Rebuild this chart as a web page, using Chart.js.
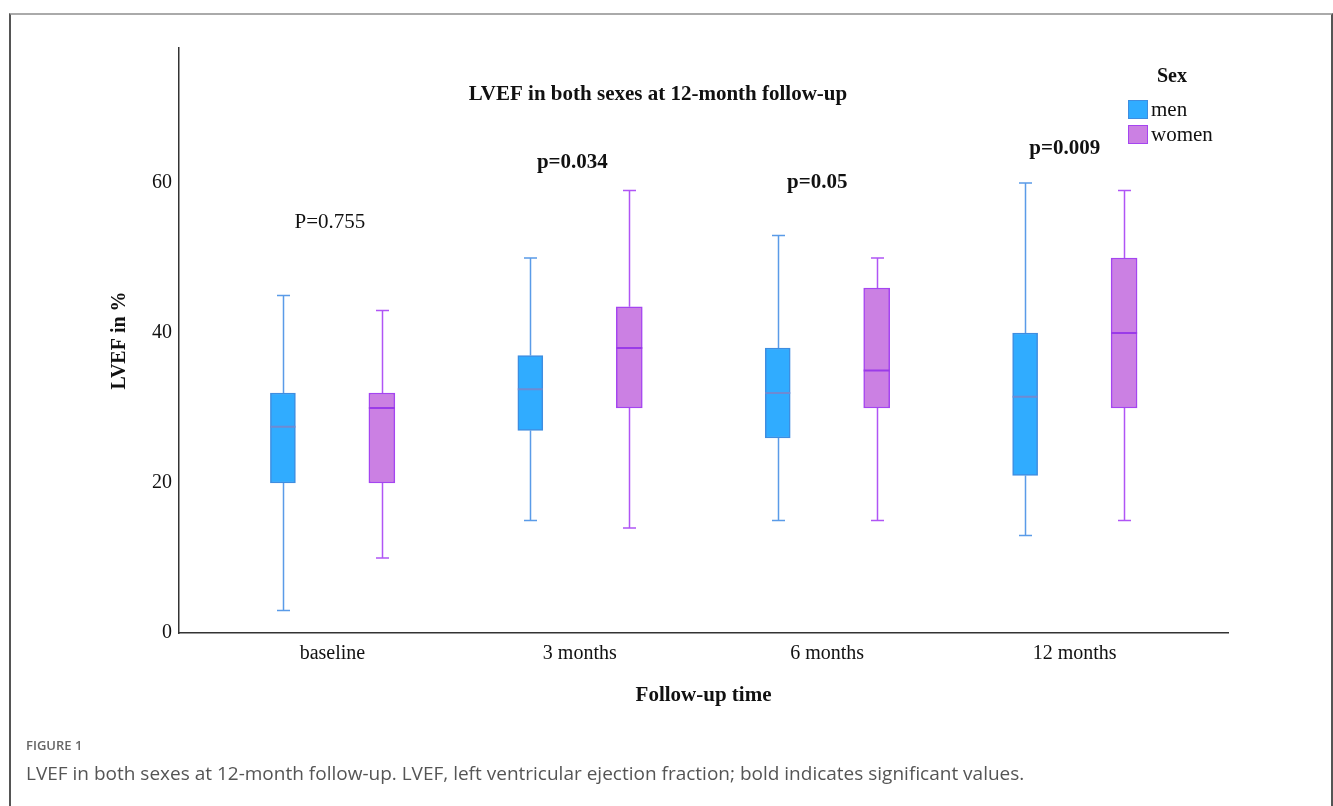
<!DOCTYPE html>
<html>
<head>
<meta charset="utf-8">
<script src="https://cdn.jsdelivr.net/npm/chart.js@4.4.0/dist/chart.umd.min.js"></script>
<style>
  body { margin: 0; background: #fff; }
  #wrap { position: relative; width: 1333px; height: 806px; overflow: hidden; }
  #frame { position: absolute; left: 9px; top: 13px; width: 1320px; height: 820px;
           border-left: 2px solid #555; border-right: 2px solid #555; border-top: 2px solid #aaa; }
  canvas { position: absolute; left: 0; top: 0; }
  .fig { position: absolute; left: 26px; top: 735px; font: 600 13px "Open Sans"; color: #666; line-height: 20px; }
  .cap { position: absolute; left: 26px; top: 760px; font: 19px "Open Sans"; color: #555; line-height: 26px; }
</style>
</head>
<body>
<div id="wrap">
  <div id="frame"></div>
  <canvas id="chart" width="1333" height="806"></canvas>
  <div class="fig">FIGURE 1</div>
  <div class="cap">LVEF in both sexes at 12-month follow-up. LVEF, left ventricular ejection fraction; bold indicates significant values.</div>
</div>
<script>
// box plot values
const categories = ['baseline', '3 months', '6 months', '12 months'];
const menMin    = [3, 15, 15, 13];
const menQ1     = [20, 27, 26, 21];
const menMedian = [27.5, 32.5, 32, 31.5];
const menQ3     = [32, 37, 38, 40];
const menMax    = [45, 50, 53, 60];
const womenMin    = [10, 14, 15, 15];
const womenQ1     = [20, 30, 30, 30];
const womenMedian = [30, 38, 35, 40];
const womenQ3     = [32, 43.5, 46, 50];
const womenMax    = [43, 59, 50, 59];
const pValues = ['P=0.755', 'p=0.034', 'p=0.05', 'p=0.009'];
const pBold   = [false, true, true, true];
const yTicks  = [0, 20, 40, 60];

const serif = '"Liberation Serif", "Times New Roman", serif';

function boxes(q1, q3, shift) {
  return categories.map((c, i) => ({ x: i + shift, y: [q1[i], q3[i]] }));
}

const boxExtras = {
  id: 'boxExtras',
  beforeDatasetsDraw(chart) {
    const ctx = chart.ctx, y = chart.scales.y;
    chart.data.datasets.forEach((ds, d) => {
      chart.getDatasetMeta(d).data.forEach((bar, i) => {
        const x = Math.round(bar.x) + 0.5;
        ctx.save();
        ctx.strokeStyle = ds.whiskerColor;
        ctx.lineWidth = 1.5;
        ctx.beginPath();
        ctx.moveTo(x, y.getPixelForValue(ds.min[i]));
        ctx.lineTo(x, y.getPixelForValue(ds.q1[i]));
        ctx.moveTo(x, y.getPixelForValue(ds.q3[i]));
        ctx.lineTo(x, y.getPixelForValue(ds.max[i]));
        [ds.min[i], ds.max[i]].forEach(v => {
          const py = y.getPixelForValue(v);
          ctx.moveTo(x - 6.5, py);
          ctx.lineTo(x + 6.5, py);
        });
        ctx.stroke();
        ctx.restore();
      });
    });
  },
  afterDatasetsDraw(chart) {
    const ctx = chart.ctx, y = chart.scales.y;
    chart.data.datasets.forEach((ds, d) => {
      chart.getDatasetMeta(d).data.forEach((bar, i) => {
        const py = y.getPixelForValue(ds.median[i]);
        ctx.save();
        ctx.strokeStyle = ds.medianColor;
        ctx.lineWidth = 2;
        ctx.beginPath();
        ctx.moveTo(bar.x - bar.width / 2, py);
        ctx.lineTo(bar.x + bar.width / 2, py);
        ctx.stroke();
        ctx.restore();
      });
    });
  },
  afterDraw(chart) {
    const ctx = chart.ctx, xs = chart.scales.x, ys = chart.scales.y;
    ctx.save();
    ctx.fillStyle = '#111';
    ctx.textAlign = 'center';
    ctx.textBaseline = 'middle';
    ctx.font = 'bold 21px ' + serif;
    ctx.fillText('LVEF in both sexes at 12-month follow-up', 658, 95);

    // p-value labels, placed against the scales
    const pX = [-0.01, -0.03, -0.04, -0.04];
    const pY = [54.7, 62.7, 60, 64.6];
    pValues.forEach((t, i) => {
      ctx.font = (pBold[i] ? 'bold ' : '') + '21px ' + serif;
      ctx.fillText(t, xs.getPixelForValue(i + pX[i]), ys.getPixelForValue(pY[i]));
    });

    // legend
    ctx.font = 'bold 20px ' + serif;
    ctx.fillText('Sex', 1172, 77);
    ctx.textAlign = 'left';
    ctx.font = '21px ' + serif;
    chart.data.datasets.forEach((ds, d) => {
      const top = 100 + d * 25;
      ctx.fillStyle = ds.backgroundColor;
      ctx.strokeStyle = ds.borderColor;
      ctx.lineWidth = 1;
      ctx.fillRect(1128, top, 20, 19);
      ctx.strokeRect(1128.5, top + 0.5, 19, 18);
      ctx.fillStyle = '#111';
      ctx.fillText(ds.label, 1151, top + 10);
    });
    ctx.restore();
  }
};

new Chart(document.getElementById('chart'), {
  type: 'bar',
  data: {
    datasets: [
      {
        label: 'men',
        data: boxes(menQ1, menQ3, -0.2),
        min: menMin, q1: menQ1, median: menMedian, q3: menQ3, max: menMax,
        backgroundColor: '#30acff',
        borderColor: '#3f8de0',
        whiskerColor: '#5a9be8',
        medianColor: '#6f8ad2',
        borderWidth: 1.5,
        borderSkipped: false,
        grouped: false,
        barThickness: 25
      },
      {
        label: 'women',
        data: boxes(womenQ1, womenQ3, 0.2),
        min: womenMin, q1: womenQ1, median: womenMedian, q3: womenQ3, max: womenMax,
        backgroundColor: '#cb80e3',
        borderColor: '#a545f0',
        whiskerColor: '#b055f5',
        medianColor: '#9a3be8',
        borderWidth: 1.5,
        borderSkipped: false,
        grouped: false,
        barThickness: 26
      }
    ]
  },
  options: {
    responsive: false,
    animation: false,
    layout: { padding: { left: 79, top: 48, right: 105, bottom: 83 } },
    plugins: { legend: { display: false }, tooltip: { enabled: false } },
    scales: {
      x: {
        type: 'linear',
        offset: false,
        min: -0.62,
        max: 3.62,
        afterBuildTicks: s => { s.ticks = categories.map((c, i) => ({ value: i })); },
        afterFit: s => { s.height = 90; },
        grid: { display: false, drawTicks: false, offset: false },
        border: { display: true, color: '#333', width: 1.5 },
        ticks: {
          callback: v => categories[v],
          autoSkip: false, maxRotation: 0, padding: 9,
          color: '#111', font: { family: serif, size: 20 }
        },
        title: {
          display: true, text: 'Follow-up time', color: '#111',
          font: { family: serif, size: 21, weight: 'bold' },
          padding: { top: 0, bottom: 15 }
        }
      },
      y: {
        min: 0,
        max: 78,
        afterBuildTicks: s => { s.ticks = yTicks.map(v => ({ value: v })); },
        afterFit: s => { s.width = 100; },
        grid: { display: false, drawTicks: false },
        border: { display: true, color: '#333', width: 1.5 },
        ticks: { padding: 7, color: '#111', font: { family: serif, size: 20 } },
        title: {
          display: true, text: 'LVEF in %', color: '#111',
          font: { family: serif, size: 20, weight: 'bold' },
          padding: { top: 29, bottom: 0 }
        }
      }
    }
  },
  plugins: [boxExtras]
});
</script>
</body>
</html>
